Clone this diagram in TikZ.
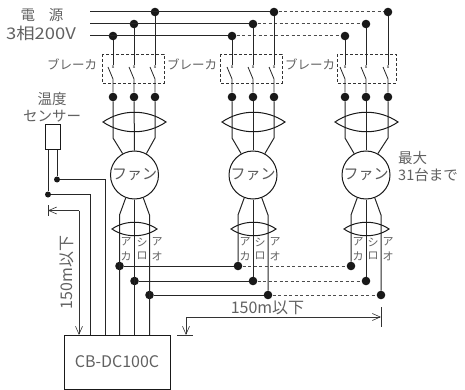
\documentclass[tikz,border=0pt]{standalone}
\usepackage{fontspec}
\setmainfont{Noto Sans CJK JP}
\newfontfamily\widefont[FakeStretch=1.15]{Noto Sans CJK JP}
\usetikzlibrary{arrows.meta}
\tikzset{
  wire/.style={line width=1pt,black!85},
  link/.style={line width=1pt,black!70,dash pattern=on 3pt off 2.5pt},
  thin wire/.style={line width=0.8pt,black!85},
  dim/.style={line width=0.6pt,black!80},
  dim tip/.style={-{Straight Barb[length=8pt,width=7pt,line width=0.6pt]}},
  dot/.style={circle,fill=black!90,inner sep=0pt,minimum size=8.6pt},
  small dot/.style={circle,fill=black!90,inner sep=0pt,minimum size=6pt},
  contact/.style={font=\fontsize{5}{5}\selectfont,inner sep=0pt,black},
  breaker/.style={line width=0.7pt,black!80,dash pattern=on 3pt off 2pt},
  lens/.style={line width=1pt,black!90},
  fan/.style={circle,draw=black!90,line width=1pt,minimum size=48pt,inner sep=0pt,
    text=black!65,font=\fontsize{15}{15}\selectfont},
  txt/.style={text=black!62,inner sep=0pt,font=\fontsize{14.5}{16}\selectfont},
  latin txt/.style={text=black!62,inner sep=0pt,font=\fontsize{16}{18}\selectfont},
  small txt/.style={text=black!62,inner sep=0pt,font=\fontsize{12.5}{14}\selectfont},
  tiny txt/.style={text=black!62,inner sep=0pt,font=\fontsize{11}{12}\selectfont}
}
\begin{document}
\begin{tikzpicture}[x=1pt,y=-1pt]
  \useasboundingbox (0,0) rectangle (465,390);

  %% power supply
  \node[txt] (supply) at (42,15) {電\hspace{14pt}源};
  \node[latin txt] (volt) at (41,33) {\widefont 3相200V};
  \coordinate (rs) at (90,12);
  \coordinate (ss) at (90,24);
  \coordinate (ts) at (90,36);
  \node[dot] (t1) at (113,36) {};
  \node[dot] (t2) at (232,36) {};
  \node[dot] (t3) at (345,36) {};
  \node[dot] (s1) at (134,24) {};
  \node[dot] (s2) at (253,24) {};
  \node[dot] (s3) at (366,24) {};
  \node[dot] (r1) at (155,12) {};
  \node[dot] (r2) at (274,12) {};
  \node[dot] (r3) at (388,12) {};
  \draw[wire] (rs) -- (r2);
  \draw[wire] (ss) -- (s2);
  \draw[wire] (ts) -- (t2);
  \draw[link] (r2) -- (r3);
  \draw[link] (s2) -- (s3);
  \draw[link] (t2) -- (t3);

  %% breakers
  \draw[breaker] (102,54) rectangle (164,83);
  \draw[breaker] (220,54) rectangle (282,83);
  \draw[breaker] (337,54) rectangle (396,83);
  \node[small txt] (brk1) at (72,64) {ブレーカ};
  \node[small txt] (brk2) at (192,64) {ブレーカ};
  \node[small txt] (brk3) at (310,64) {ブレーカ};

  %% fan 1
  \node[fan] (fan1) at (134.5,175) {ファン};
  \node[dot] (a1) at (113,97) {};
  \node[dot] (b1) at (134,97) {};
  \node[dot] (c1) at (155,97) {};
  \node[contact] (xa1) at (113,67) {x};
  \node[contact] (xb1) at (134,67) {x};
  \node[contact] (xc1) at (155,67) {x};
  \draw[wire] (t1) -- (xa1);
  \draw[wire] (s1) -- (xb1);
  \draw[wire] (r1) -- (xc1);
  \draw[thin wire] (108,67) -- (113,79) -- (a1);
  \draw[thin wire] (129,67) -- (134,79) -- (b1);
  \draw[thin wire] (150,67) -- (155,79) -- (c1);
  \draw[wire] (a1) -- (113,138) -- (fan1.119);
  \draw[wire] (b1) -- (fan1.north);
  \draw[wire] (c1) -- (155,138) -- (fan1.61);
  \draw[lens] (103,122) .. controls (122,109) and (147,109) .. (166,122)
    .. controls (147,135) and (122,135) .. cycle;

  %% fan 2
  \node[fan] (fan2) at (253,175) {ファン};
  \node[dot] (a2) at (232,97) {};
  \node[dot] (b2) at (253,97) {};
  \node[dot] (c2) at (274,97) {};
  \node[contact] (xa2) at (232,67) {x};
  \node[contact] (xb2) at (253,67) {x};
  \node[contact] (xc2) at (274,67) {x};
  \draw[wire] (t2) -- (xa2);
  \draw[wire] (s2) -- (xb2);
  \draw[wire] (r2) -- (xc2);
  \draw[thin wire] (227,67) -- (232,79) -- (a2);
  \draw[thin wire] (248,67) -- (253,79) -- (b2);
  \draw[thin wire] (269,67) -- (274,79) -- (c2);
  \draw[wire] (a2) -- (232,138) -- (fan2.119);
  \draw[wire] (b2) -- (fan2.north);
  \draw[wire] (c2) -- (274,138) -- (fan2.61);
  \draw[lens] (222,122) .. controls (241,109) and (266,109) .. (285,122)
    .. controls (266,135) and (241,135) .. cycle;

  %% fan 3
  \node[fan] (fan3) at (366,175) {ファン};
  \node[dot] (a3) at (345,97) {};
  \node[dot] (b3) at (366,97) {};
  \node[dot] (c3) at (388,97) {};
  \node[contact] (xa3) at (345,67) {x};
  \node[contact] (xb3) at (366,67) {x};
  \node[contact] (xc3) at (388,67) {x};
  \draw[wire] (t3) -- (xa3);
  \draw[wire] (s3) -- (xb3);
  \draw[wire] (r3) -- (xc3);
  \draw[thin wire] (340,67) -- (345,79) -- (a3);
  \draw[thin wire] (361,67) -- (366,79) -- (b3);
  \draw[thin wire] (383,67) -- (388,79) -- (c3);
  \draw[wire] (a3) -- (345,138) -- (fan3.119);
  \draw[wire] (b3) -- (fan3.north);
  \draw[wire] (c3) -- (388,138) -- (fan3.61);
  \draw[lens] (335,122) .. controls (354,109) and (379,109) .. (398,122)
    .. controls (379,135) and (354,135) .. cycle;
  \node[txt,anchor=west] (max1) at (398,158) {最大};
  \node[txt,anchor=west] (max2) at (398,175) {31台まで};

  %% controller
  \node[draw=black!90,line width=1pt,minimum width=106pt,minimum height=54pt,
    inner sep=0pt,text=black!62,font=\fontsize{16}{18}\selectfont] (ctrl) at (117,362)
    {CB-DC100C};
  \coordinate (ca) at (119.5,335);
  \coordinate (cb) at (134.5,335);
  \coordinate (cc) at (149.5,335);

  %% signal lines
  \node[dot] (d1) at (119.5,266) {};
  \node[dot] (d2) at (238,266) {};
  \node[dot] (d3) at (351,266) {};
  \node[dot] (e1) at (134.5,281) {};
  \node[dot] (e2) at (253,281) {};
  \node[dot] (e3) at (366,281) {};
  \node[dot] (f1) at (149.5,295) {};
  \node[dot] (f2) at (268,295) {};
  \node[dot] (f3) at (381,295) {};
  \draw[wire] (fan1.249) -- (119.5,215) -- (ca);
  \draw[wire] (fan1.south) -- (cb);
  \draw[wire] (fan1.291) -- (149.5,215) -- (cc);
  \draw[wire] (fan2.249) -- (238,215) -- (d2);
  \draw[wire] (fan2.south) -- (e2);
  \draw[wire] (fan2.291) -- (268,215) -- (f2);
  \draw[wire] (fan3.249) -- (351,215) -- (d3);
  \draw[wire] (fan3.south) -- (e3);
  \draw[wire] (fan3.291) -- (381,215) -- (f3);
  \draw[wire] (d1) -- (d2);
  \draw[wire] (e1) -- (e2);
  \draw[wire] (f1) -- (f2);
  \draw[link] (d2) -- (d3);
  \draw[link] (e2) -- (e3);
  \draw[link] (f2) -- (f3);
  \draw[lens] (112,229) .. controls (125,220) and (144,220) .. (157,229)
    .. controls (144,238) and (125,238) .. cycle;
  \draw[lens] (231,229) .. controls (244,220) and (263,220) .. (276,229)
    .. controls (263,238) and (244,238) .. cycle;
  \draw[lens] (344,229) .. controls (357,220) and (376,220) .. (389,229)
    .. controls (376,238) and (357,238) .. cycle;

  %% terminal labels
  \node[tiny txt] (la1) at (126,242) {ア};
  \node[tiny txt] (lb1) at (142,242) {シ};
  \node[tiny txt] (lc1) at (157,242) {ア};
  \node[tiny txt] (ld1) at (126,256) {カ};
  \node[tiny txt] (le1) at (142,256) {ロ};
  \node[tiny txt] (lf1) at (157,256) {オ};
  \node[tiny txt] (la2) at (245,242) {ア};
  \node[tiny txt] (lb2) at (260,242) {シ};
  \node[tiny txt] (lc2) at (275,242) {ア};
  \node[tiny txt] (ld2) at (245,256) {カ};
  \node[tiny txt] (le2) at (260,256) {ロ};
  \node[tiny txt] (lf2) at (275,256) {オ};
  \node[tiny txt] (la3) at (358,242) {ア};
  \node[tiny txt] (lb3) at (373,242) {シ};
  \node[tiny txt] (lc3) at (388,242) {ア};
  \node[tiny txt] (ld3) at (358,256) {カ};
  \node[tiny txt] (le3) at (373,256) {ロ};
  \node[tiny txt] (lf3) at (388,256) {オ};

  %% sensor
  \node[txt] (temp1) at (52,99) {温度};
  \node[txt] (temp2) at (52,116) {センサー};
  \node[draw=black!90,line width=1pt,minimum width=15pt,minimum height=25pt,inner sep=0pt] (sensor) at (52.5,137.5) {};
  \node[small dot] (g) at (57,179.5) {};
  \node[small dot] (h) at (48,194.5) {};
  \draw[wire] (g |- sensor.south) -- (g);
  \draw[wire] (h |- sensor.south) -- (h);
  \draw[wire] (g) -- (105,179.5) -- (105,335);
  \draw[wire] (h) -- (90,194.5) -- (90,335);

  %% distances
  \coordinate (va) at (79,210.5);
  \coordinate (vb) at (79,335);
  \coordinate (ha) at (186,317);
  \coordinate (hb) at (381,317);
  \draw[dim] (48,205) -- (48,216);
  \draw[dim,dim tip] (va) -- (48,210.5);
  \draw[dim,dim tip] (va) -- (vb);
  \draw[dim,dim tip] (ha) -- (186,335);
  \draw[dim] (177,335) -- (193,335);
  \draw[dim,dim tip] (ha) -- (hb);
  \draw[dim] (381,307) -- (381,327);
  \node[latin txt,rotate=90] (len1) at (67,272.5) {150m以下};
  \node[latin txt] (len2) at (267.5,308) {150m以下};
\end{tikzpicture}
\end{document}
